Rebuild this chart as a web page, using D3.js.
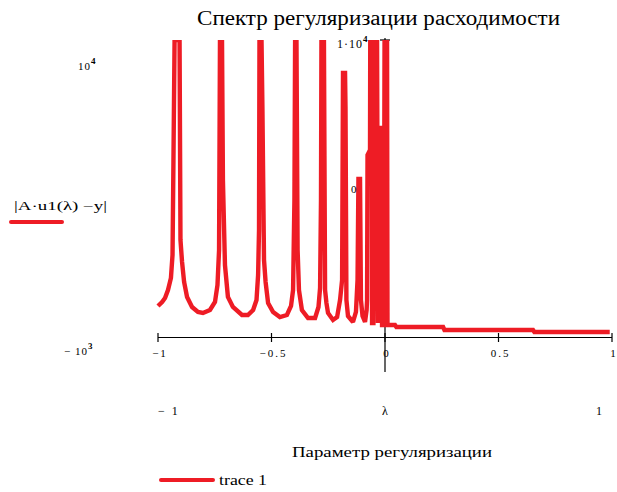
<!DOCTYPE html>
<html><head><meta charset="utf-8">
<script src="https://cdn.jsdelivr.net/npm/d3@7"></script>
<style>
html,body{margin:0;padding:0;background:#fff;}
svg{display:block;}
text{font-family:"Liberation Serif","Times New Roman",serif;fill:#000;}
</style></head>
<body><svg id="c" width="617" height="492"></svg>
<script>
// ---- data ----
const title = "Спектр регуляризации  расходимости";
const xLabel = "Параметр регуляризации";
const seriesName = "trace 1";
const yExprLabel = "|A·u1(λ) −y|";
const xTicks = [-1, -0.5, 0, 0.5, 1];
const xTickLabels = ["−1", "−0.5", "0", "0.5", "1"];
const xDomain = [-1, 1];
const yDomain = [0, 10000];
const lambda = [
 -1.000,-0.982,-0.969,-0.956,-0.943,-0.936,-0.932,-0.927,-0.905,-0.901,-0.894,-0.885,-0.872,-0.850,-0.824,-0.802,-0.771,-0.749,-0.738,-0.731,
 -0.727,-0.718,-0.714,-0.705,-0.692,-0.670,-0.630,-0.604,-0.581,-0.566,-0.559,-0.555,-0.553,-0.544,-0.540,-0.533,-0.526,-0.515,-0.493,-0.463,
 -0.432,-0.414,-0.405,-0.399,-0.396,-0.390,-0.385,-0.379,-0.366,-0.339,-0.308,-0.293,-0.286,-0.282,-0.280,-0.269,-0.264,-0.258,-0.251,-0.229,
 -0.211,-0.198,-0.189,-0.185,-0.176,-0.174,-0.170,-0.163,-0.141,-0.128,-0.121,-0.117,-0.110,-0.106,-0.099,-0.088,-0.081,-0.079,-0.077,-0.066,
 -0.065,-0.059,-0.057,-0.051,-0.042,-0.035,-0.031,-0.022,-0.015,-0.013,-0.005,-0.002,0.009,0.011,0.018,0.044,0.050,0.256,0.262,0.652,0.658,0.990
];
const values = [
 1044,1178,1313,1582,1987,2761,5892,10000,10000,3266,2525,1852,1347,1010,842,808,909,1178,1751,2929,
 10000,10000,5286,2424,1347,1010,741,741,909,1246,2088,3603,10000,10000,7710,2593,1852,1145,842,673,
 741,1044,1582,4613,10000,10000,2929,1582,909,640,640,1010,1650,4613,10000,10000,1582,1145,808,572,
 673,1246,1919,8889,8889,7744,1246,707,505,842,1919,5320,5320,1246,707,505,909,1246,6128,6296,
 10000,10000,471,471,10000,10000,471,7037,7037,404,404,10000,10000,404,404,404,337,337,236,236,168,168
];

const svg = d3.select("#c");
const red = "#ee1c25";
const x = d3.scaleLinear().domain(xDomain).range([158, 612]);
const y = d3.scaleLinear().domain(yDomain).range([337, 40]);

// title
svg.append("text").attr("x", 197).attr("y", 25).attr("font-size", 20)
  .attr("textLength", 363).attr("lengthAdjust", "spacingAndGlyphs").text(title);

// clip
svg.append("defs").append("clipPath").attr("id", "clip")
  .append("rect").attr("x", 150).attr("y", 40).attr("width", 470).attr("height", 320);

// x axis
const ax = svg.append("g").attr("stroke", "#000").attr("stroke-width", 1.2);
ax.append("line").attr("x1", x(-1)).attr("x2", x(1)).attr("y1", 337.5).attr("y2", 337.5);
ax.selectAll("line.t").data(xTicks).join("line").attr("class", "t")
  .attr("x1", d => x(d)).attr("x2", d => x(d)).attr("y1", 333).attr("y2", 342);
// y axis (vertical at 0)
ax.append("line").attr("x1", x(0)).attr("x2", x(0)).attr("y1", y(10000) - 2).attr("y2", 372);
ax.append("line").attr("x1", x(0) - 5).attr("x2", x(0) + 5).attr("y1", y(10000)).attr("y2", y(10000));

// curve (on top of axes)
const pts = lambda.map((l, i) => [l, values[i]]);
svg.append("path").attr("clip-path", "url(#clip)")
  .attr("d", d3.line().x(d => x(d[0])).y(d => y(d[1]))(pts))
  .attr("fill", "none").attr("stroke", red).attr("stroke-width", 4.4)
  .attr("stroke-linejoin", "miter").attr("stroke-miterlimit", 2);

svg.selectAll("text.xt").data(xTicks).join("text").attr("class", "xt")
  .attr("x", d => x(d) + 2).attr("y", 357).attr("font-size", 11)
  .attr("text-anchor", "middle").attr("letter-spacing", 2)
  .text((d, i) => xTickLabels[i]);

// y axis labels at the axis
const t1 = svg.append("text").attr("x", 337).attr("y", 48).attr("font-size", 12).attr("letter-spacing", 1);
t1.append("tspan").text("1·10");
t1.append("tspan").attr("dy", -6).attr("font-size", 9).attr("font-weight", "bold").text("4");
svg.append("text").attr("x", 351).attr("y", 193).attr("font-size", 11).text("0");

// left range labels
const t2 = svg.append("text").attr("x", 78).attr("y", 70).attr("font-size", 11).attr("letter-spacing", 1);
t2.append("tspan").text("10");
t2.append("tspan").attr("dy", -6).attr("font-size", 9).attr("font-weight", "bold").text("4");
const t3 = svg.append("text").attr("x", 64).attr("y", 355).attr("font-size", 11).attr("letter-spacing", 1);
t3.append("tspan").text("− 10");
t3.append("tspan").attr("dy", -6).attr("font-size", 9).attr("font-weight", "bold").text("3");

// left trace expression + line
svg.append("text").attr("x", 14).attr("y", 210).attr("font-size", 12)
  .attr("textLength", 93).attr("lengthAdjust", "spacingAndGlyphs").text(yExprLabel);
svg.append("line").attr("x1", 11).attr("x2", 62).attr("y1", 222).attr("y2", 222)
  .attr("stroke", red).attr("stroke-width", 4).attr("stroke-linecap", "round");

// bottom range labels
svg.append("text").attr("x", 158).attr("y", 415).attr("font-size", 12).attr("letter-spacing", 2).text("− 1");
svg.append("text").attr("x", 382).attr("y", 415).attr("font-size", 12).text("λ");
svg.append("text").attr("x", 596).attr("y", 415).attr("font-size", 12).text("1");

// x title
svg.append("text").attr("x", 292).attr("y", 457).attr("font-size", 15)
  .attr("textLength", 200).attr("lengthAdjust", "spacingAndGlyphs").text(xLabel);

// legend
svg.append("line").attr("x1", 161).attr("x2", 213).attr("y1", 480).attr("y2", 480)
  .attr("stroke", red).attr("stroke-width", 4).attr("stroke-linecap", "round");
svg.append("text").attr("x", 219).attr("y", 485).attr("font-size", 14)
  .attr("textLength", 48).attr("lengthAdjust", "spacingAndGlyphs").text(seriesName);
</script></body></html>
